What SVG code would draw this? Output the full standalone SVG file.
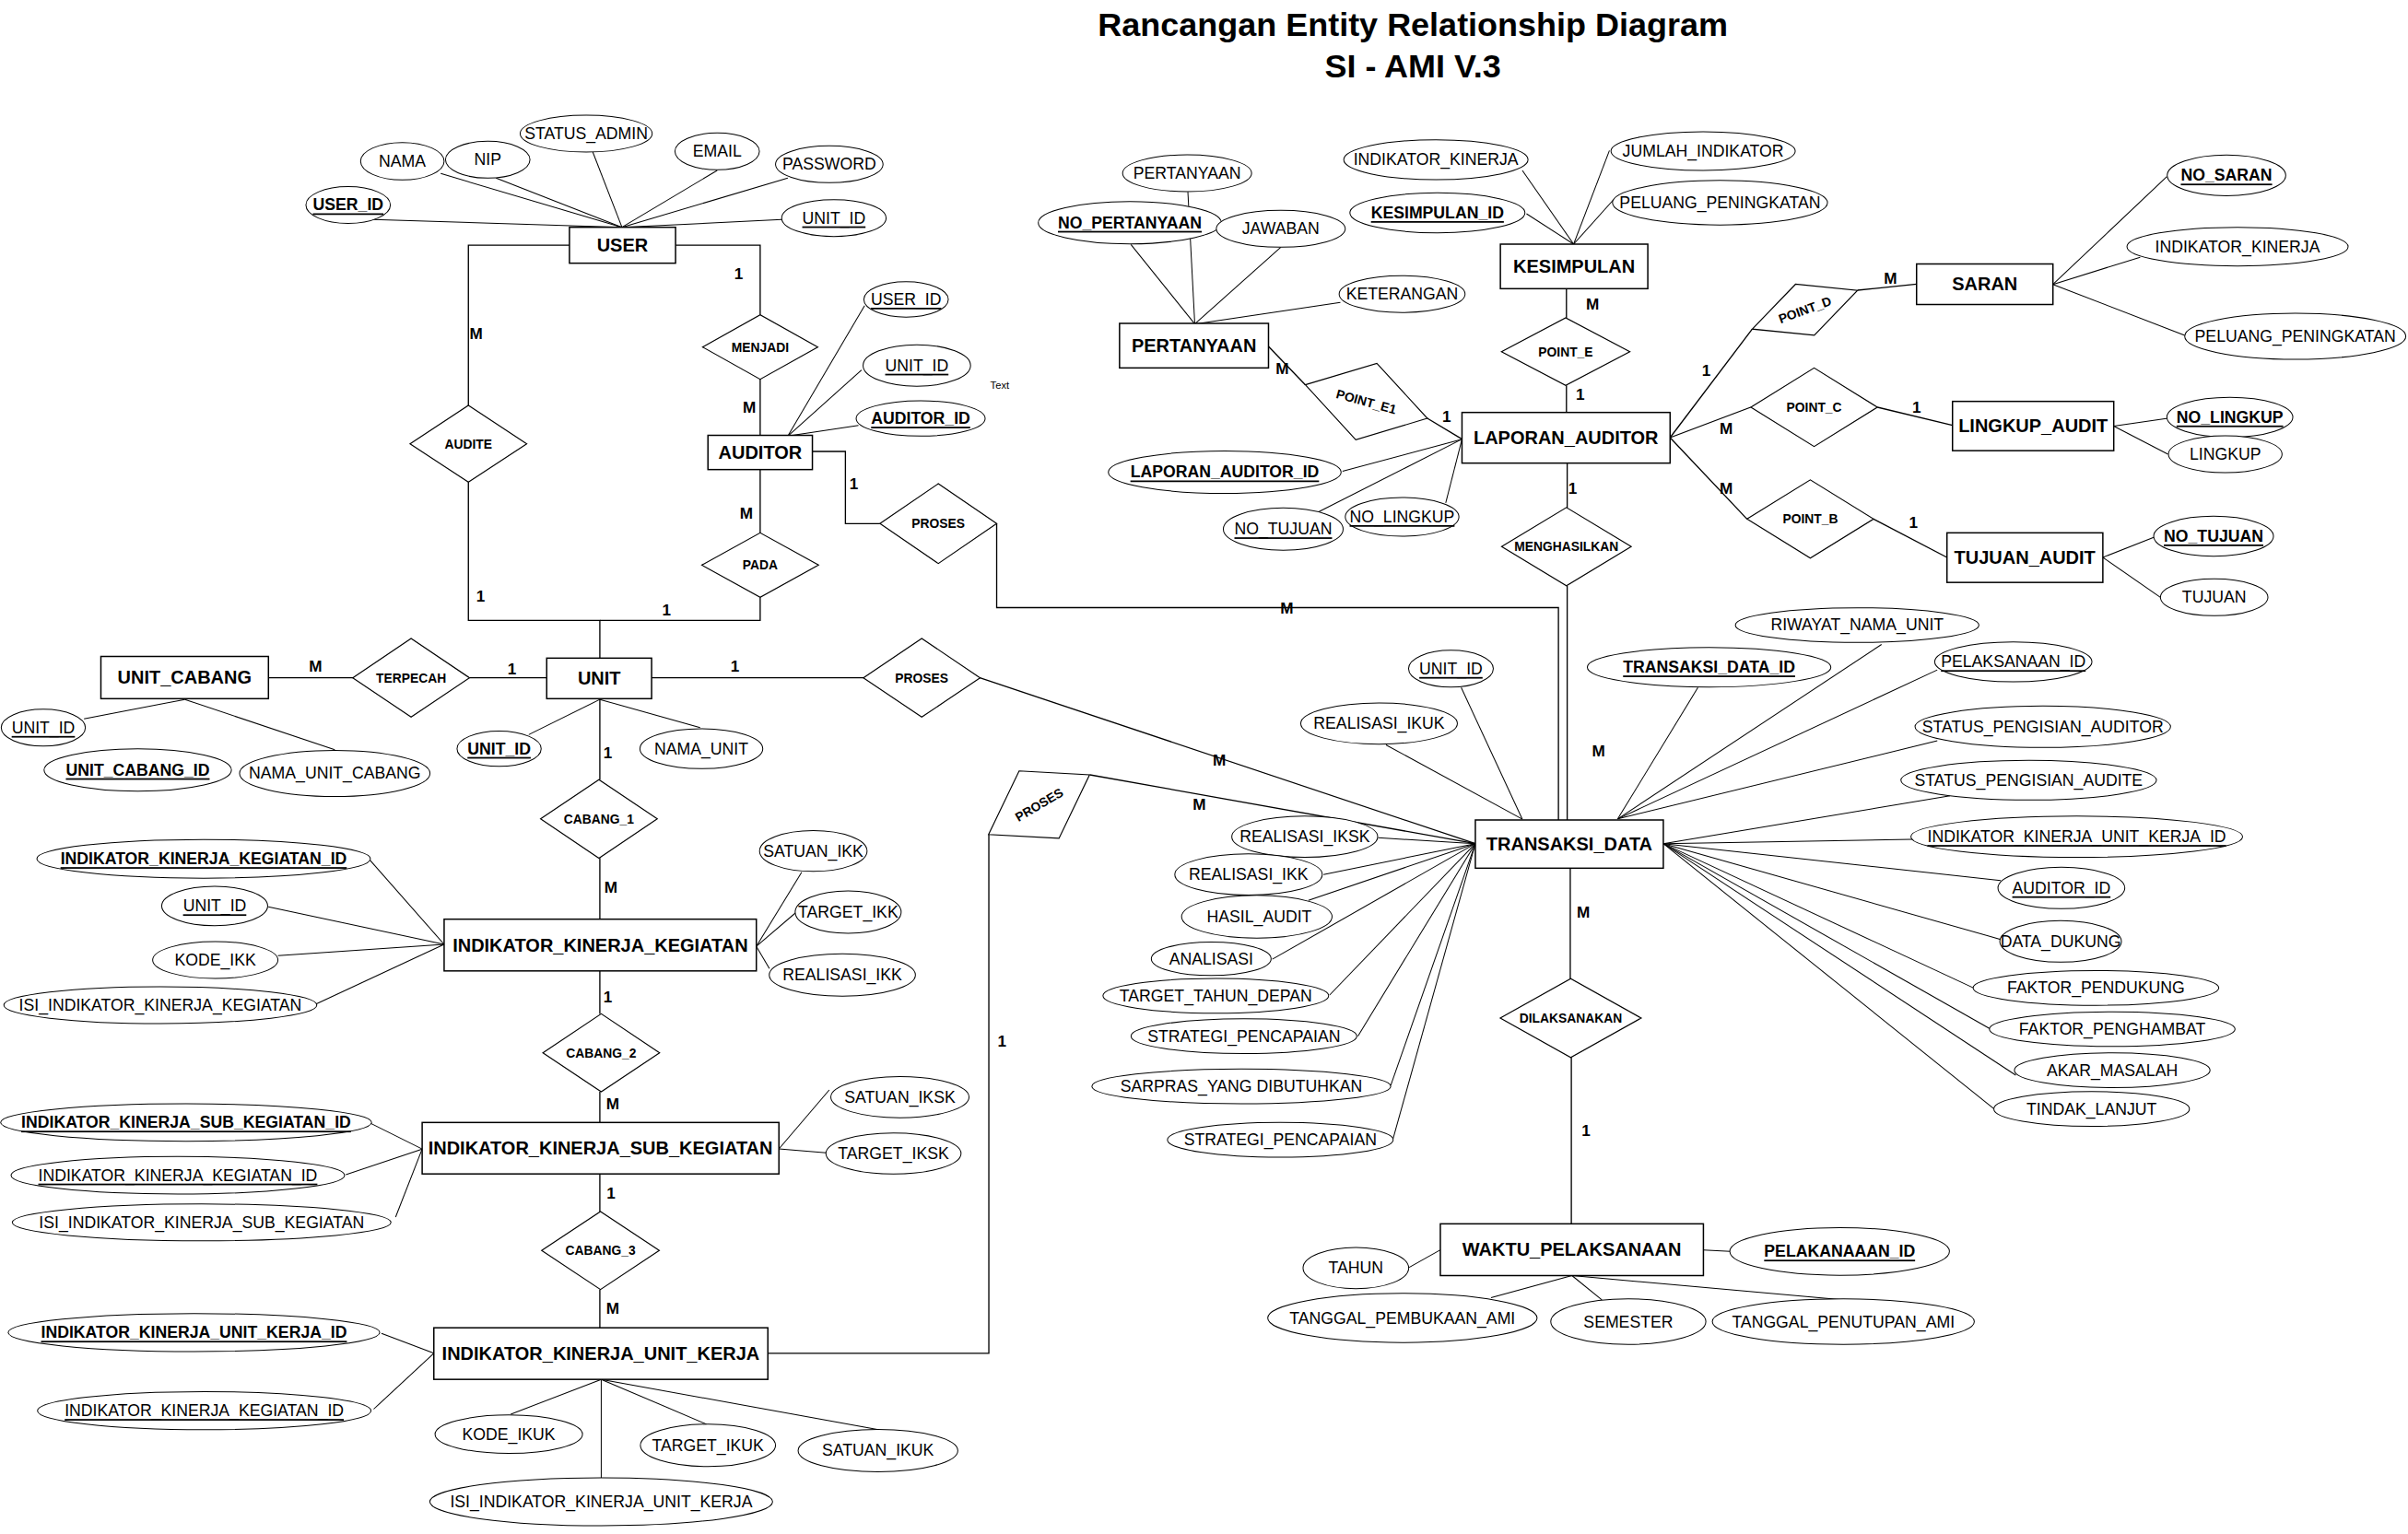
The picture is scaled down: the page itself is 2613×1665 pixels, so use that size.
<svg xmlns="http://www.w3.org/2000/svg" width="2613" height="1665" viewBox="0 0 2613 1665">
<style>
.e{fill:#fff;stroke:#000;stroke-width:0.9}
.r{fill:#fff;stroke:#000;stroke-width:0.7}
.a{fill:#fff;stroke:#000;stroke-width:0.6}
.c polyline{fill:none;stroke:#000;stroke-width:0.8}
.c line{stroke:#000;stroke-width:0.6}
text{font-family:"Liberation Sans",Arial,Helvetica,sans-serif;fill:#000;text-anchor:middle;dominant-baseline:central}
.te{font-size:12px;font-weight:bold}
.ta{font-size:10.6px}
.tk{font-size:10.6px;font-weight:bold;text-decoration:underline}
.tf{font-size:10.6px;text-decoration:underline}
.tr{font-size:8.3px;font-weight:bold}
.tc{font-size:10.3px;font-weight:bold}
.tt{font-size:21.6px;font-weight:bold}
</style>
<rect width="2613" height="1665" fill="#fff"/>
<g transform="scale(1.66645,1.66667)">
<g id="title">
<text class="tt" x="920" y="16">Rancangan Entity Relationship Diagram</text>
<text class="tt" x="920" y="43">SI - AMI V.3</text>
</g>
<g id="connectors" class="c">
<polyline points="371,159.7 305,159.7 305,264"/>
<polyline points="305,314 305,404 390.6,404 390.6,428.6"/>
<polyline points="440,159.7 495,159.7 495,205"/>
<polyline points="495,247 495,283.5"/>
<polyline points="495,306 495,347"/>
<polyline points="495,389 495,404 390.6,404"/>
<polyline points="529,294 550.5,294 550.5,341 573,341"/>
<polyline points="649,341 649,395.7 1014.8,395.7 1014.8,534"/>
<polyline points="826,225.6 850,250.6"/>
<polyline points="929.4,272.4 952,286"/>
<polyline points="1020,188 1020,207"/>
<polyline points="1020,251 1020,268.6"/>
<polyline points="1020.5,301.6 1020.5,330.6"/>
<polyline points="1020.5,381.6 1020.5,534"/>
<polyline points="1087.5,285 1141,214.3"/>
<polyline points="1209.6,189 1248,185"/>
<polyline points="1087.5,285 1140,265.2"/>
<polyline points="1222.5,265.2 1271.4,277"/>
<polyline points="1087.5,285 1137.6,338"/>
<polyline points="1220,338 1267.8,363"/>
<polyline points="174.8,441.4 229.8,441.4"/>
<polyline points="305.6,441.4 356,441.4"/>
<polyline points="424.3,441.4 562.4,441.4"/>
<polyline points="638,441.4 960.7,549.4"/>
<polyline points="390.6,455 390.6,507.7"/>
<polyline points="390.6,558.8 390.6,598.6"/>
<polyline points="390.6,632.3 390.6,660.3"/>
<polyline points="390.6,711 390.6,731"/>
<polyline points="390.6,764.5 390.6,789"/>
<polyline points="390.6,839.8 390.6,864.7"/>
<polyline points="500,881.3 643.9,881.3 643.9,543.5"/>
<polyline points="709.7,504.6 960.7,549.4"/>
<polyline points="1022.5,565.4 1022.5,637.3"/>
<polyline points="1023.2,688.7 1023.2,797"/>
<line x1="287" y1="113" x2="405" y2="148"/>
<line x1="323" y1="116" x2="405" y2="148"/>
<line x1="386" y1="99" x2="405" y2="148"/>
<line x1="467" y1="111" x2="405" y2="148"/>
<line x1="513" y1="116" x2="405" y2="148"/>
<line x1="243" y1="143" x2="405" y2="148"/>
<line x1="509" y1="143" x2="405" y2="148"/>
<line x1="563" y1="199" x2="513" y2="284"/>
<line x1="561" y1="241" x2="513" y2="284"/>
<line x1="559" y1="277" x2="513" y2="284"/>
<line x1="773.5" y1="125" x2="778" y2="211"/>
<line x1="736.4" y1="159.2" x2="778" y2="211"/>
<line x1="834" y1="161" x2="778" y2="211"/>
<line x1="872.8" y1="197" x2="778" y2="211"/>
<line x1="991.3" y1="111" x2="1024.7" y2="159"/>
<line x1="994" y1="139.2" x2="1024.7" y2="159"/>
<line x1="1048" y1="98" x2="1024.7" y2="159"/>
<line x1="1051.6" y1="129" x2="1024.7" y2="159"/>
<line x1="874.2" y1="306.9" x2="952" y2="286"/>
<line x1="858.7" y1="333.3" x2="952" y2="286"/>
<line x1="941.4" y1="327.5" x2="952" y2="286"/>
<line x1="1411" y1="115" x2="1336.8" y2="185.2"/>
<line x1="1393.6" y1="167.5" x2="1336.8" y2="185.2"/>
<line x1="1422.6" y1="218.4" x2="1336.8" y2="185.2"/>
<line x1="1411.7" y1="272.4" x2="1376.4" y2="277.5"/>
<line x1="1411.7" y1="295.8" x2="1376.4" y2="277.5"/>
<line x1="1402.8" y1="349.8" x2="1369.3" y2="363"/>
<line x1="1406.8" y1="389" x2="1369.3" y2="363"/>
<line x1="344.3" y1="478.4" x2="390.6" y2="455.5"/>
<line x1="455.9" y1="473.9" x2="390.6" y2="455.5"/>
<line x1="54.7" y1="468.1" x2="120.4" y2="455.5"/>
<line x1="218" y1="488.3" x2="120.4" y2="455.5"/>
<line x1="240.8" y1="560" x2="289.2" y2="615"/>
<line x1="174.7" y1="590.5" x2="289.2" y2="615"/>
<line x1="181" y1="622.4" x2="289.2" y2="615"/>
<line x1="204.2" y1="654.6" x2="289.2" y2="615"/>
<line x1="522" y1="568" x2="492.5" y2="616.3"/>
<line x1="518.6" y1="594" x2="492.5" y2="616.3"/>
<line x1="501" y1="630.7" x2="492.5" y2="616.3"/>
<line x1="241.2" y1="731.5" x2="274.9" y2="748.3"/>
<line x1="225.2" y1="765" x2="274.9" y2="748.3"/>
<line x1="257.6" y1="792.6" x2="274.9" y2="748.3"/>
<line x1="540" y1="709.8" x2="507.2" y2="748.2"/>
<line x1="538" y1="750.7" x2="507.2" y2="748.2"/>
<line x1="248.4" y1="868.4" x2="282.5" y2="881.3"/>
<line x1="243.3" y1="917.7" x2="282.5" y2="881.3"/>
<line x1="332.6" y1="921" x2="391.5" y2="898.3"/>
<line x1="460.1" y1="927.5" x2="391.5" y2="898.3"/>
<line x1="571.2" y1="930.9" x2="391.5" y2="898.3"/>
<line x1="391.5" y1="962.4" x2="391.5" y2="898.3"/>
<line x1="951.5" y1="447.8" x2="991.3" y2="533.5"/>
<line x1="902.5" y1="485.1" x2="991.3" y2="533.5"/>
<line x1="897.4" y1="545.6" x2="960.7" y2="549.4"/>
<line x1="861.8" y1="569.5" x2="960.7" y2="549.4"/>
<line x1="852" y1="586.3" x2="960.7" y2="549.4"/>
<line x1="828.5" y1="624.7" x2="960.7" y2="549.4"/>
<line x1="865.8" y1="648" x2="960.7" y2="549.4"/>
<line x1="884.2" y1="674.8" x2="960.7" y2="549.4"/>
<line x1="905.6" y1="706.9" x2="960.7" y2="549.4"/>
<line x1="907.1" y1="741.7" x2="960.7" y2="549.4"/>
<line x1="1105.6" y1="447.8" x2="1053.4" y2="533.3"/>
<line x1="1225.2" y1="419.7" x2="1053.4" y2="533.3"/>
<line x1="1261.5" y1="436.3" x2="1053.4" y2="533.3"/>
<line x1="1261.5" y1="482.4" x2="1053.4" y2="533.3"/>
<line x1="1269.8" y1="518.3" x2="1083.1" y2="549.4"/>
<line x1="1245" y1="546.6" x2="1083.1" y2="549.4"/>
<line x1="1302.8" y1="573.5" x2="1083.1" y2="549.4"/>
<line x1="1302.8" y1="611.8" x2="1083.1" y2="549.4"/>
<line x1="1285.2" y1="643.4" x2="1083.1" y2="549.4"/>
<line x1="1296.2" y1="670.2" x2="1083.1" y2="549.4"/>
<line x1="1312.6" y1="700.2" x2="1083.1" y2="549.4"/>
<line x1="1298.5" y1="722.2" x2="1083.1" y2="549.4"/>
<line x1="917.6" y1="825.4" x2="937.9" y2="814"/>
<line x1="1126.7" y1="815" x2="1109.2" y2="814"/>
<line x1="970.9" y1="845.1" x2="1023.6" y2="830.7"/>
<line x1="1043.1" y1="846.5" x2="1023.6" y2="830.7"/>
<line x1="1199.6" y1="846.5" x2="1023.6" y2="830.7"/>
</g>
<g id="cardinalities">
<text class="tc" x="310" y="217">M</text>
<text class="tc" x="313" y="388">1</text>
<text class="tc" x="481" y="178">1</text>
<text class="tc" x="488" y="265">M</text>
<text class="tc" x="486" y="334">M</text>
<text class="tc" x="434" y="397">1</text>
<text class="tc" x="556" y="315">1</text>
<text class="tc" x="838" y="396">M</text>
<text class="tc" x="835" y="240">M</text>
<text class="tc" x="942" y="271">1</text>
<text class="tc" x="1037" y="198">M</text>
<text class="tc" x="1029" y="257">1</text>
<text class="tc" x="1024" y="318">1</text>
<text class="tc" x="1041" y="489">M</text>
<text class="tc" x="1111" y="241">1</text>
<text class="tc" x="1231" y="181">M</text>
<text class="tc" x="1124" y="279">M</text>
<text class="tc" x="1248" y="265">1</text>
<text class="tc" x="1124" y="318">M</text>
<text class="tc" x="1246" y="340">1</text>
<text class="tc" x="205.4" y="434">M</text>
<text class="tc" x="333.4" y="435.5">1</text>
<text class="tc" x="478.6" y="434">1</text>
<text class="tc" x="794" y="495">M</text>
<text class="tc" x="395.7" y="490">1</text>
<text class="tc" x="397.8" y="578">M</text>
<text class="tc" x="395.7" y="649">1</text>
<text class="tc" x="399" y="718.5">M</text>
<text class="tc" x="397.8" y="777">1</text>
<text class="tc" x="399" y="852">M</text>
<text class="tc" x="652.5" y="678">1</text>
<text class="tc" x="781" y="524">M</text>
<text class="tc" x="1031" y="594">M</text>
<text class="tc" x="1032.7" y="736">1</text>
</g>
<g id="relationships">
<g id="rel-audite"><polygon class="r" points="267,289 305,264 343,289 305,314"/><text class="tr" x="305" y="289">AUDITE</text></g>
<g id="rel-menjadi"><polygon class="r" points="457.5,226 495,205 532.5,226 495,247"/><text class="tr" x="495" y="226">MENJADI</text></g>
<g id="rel-pada"><polygon class="r" points="457,368 495,347 533,368 495,389"/><text class="tr" x="495" y="368">PADA</text></g>
<g id="rel-proses-1"><polygon class="r" points="573,341 611,315 649,341 611,367"/><text class="tr" x="611" y="341">PROSES</text></g>
<g id="rel-terpecah"><polygon class="r" points="229.7,441.4 267.7,415.8 305.7,441.4 267.7,467"/><text class="tr" x="267.7" y="441.4">TERPECAH</text></g>
<g id="rel-proses-2"><polygon class="r" points="562.2,441.4 600.2,415.8 638.2,441.4 600.2,467"/><text class="tr" x="600.2" y="441.4">PROSES</text></g>
<g id="rel-cabang-1"><polygon class="r" points="352,533.3 390,507.7 428,533.3 390,558.9"/><text class="tr" x="390" y="533.3">CABANG_1</text></g>
<g id="rel-cabang-2"><polygon class="r" points="353.5,685.6 391.5,660.2 429.5,685.6 391.5,711"/><text class="tr" x="391.5" y="685.6">CABANG_2</text></g>
<g id="rel-cabang-3"><polygon class="r" points="352.7,814.4 391,789 429.3,814.4 391,839.8"/><text class="tr" x="391" y="814.4">CABANG_3</text></g>
<g id="rel-point-e"><polygon class="r" points="977.7,229 1019.5,207 1061.3,229 1019.5,251"/><text class="tr" x="1019.5" y="229">POINT_E</text></g>
<g id="rel-menghasilkan"><polygon class="r" points="977.8,356 1020,330.5 1062.2,356 1020,381.5"/><text class="tr" x="1020" y="356">MENGHASILKAN</text></g>
<g id="rel-point-c"><polygon class="r" points="1140.1,265.2 1181.3,239.6 1222.5,265.2 1181.3,290.8"/><text class="tr" x="1181.3" y="265.2">POINT_C</text></g>
<g id="rel-point-b"><polygon class="r" points="1137.6,338 1178.8,312.5 1220,338 1178.8,363.5"/><text class="tr" x="1178.8" y="338">POINT_B</text></g>
<g id="rel-dilaksanakan"><polygon class="r" points="976.9,663 1022.8,637.3 1068.7,663 1022.8,688.7"/><text class="tr" x="1022.8" y="663">DILAKSANAKAN</text></g>
<g id="rel-point-e1" transform="translate(889.7,261.5) rotate(15.4)"><polygon class="r" points="-41.2,0 0,-25.8 41.2,0 0,25.8"/><text class="tr" x="0" y="0">POINT_E1</text></g>
<g id="rel-point-d" transform="translate(1175.3,201.7) rotate(-20.2)"><polygon class="r" points="-36.5,0 0,-17.7 36.5,0 0,17.7"/><text class="tr" x="0" y="0">POINT_D</text></g>
<g id="rel-proses-3" transform="translate(676.6,524) rotate(-30.6)"><polygon class="r" points="-38.2,0 0,-25.5 38.2,0 0,25.5"/><text class="tr" x="0" y="0">PROSES</text></g>
</g>
<g id="entities">
<g id="ent-user"><rect class="e" x="370.8" y="148" width="69.1" height="23.4"/><text class="te" x="405.3" y="159.7">USER</text></g>
<g id="ent-auditor"><rect class="e" x="461" y="283.5" width="68" height="22.3"/><text class="te" x="495" y="294.7">AUDITOR</text></g>
<g id="ent-pertanyaan"><rect class="e" x="729" y="210.6" width="97" height="29"/><text class="te" x="777.5" y="225.1">PERTANYAAN</text></g>
<g id="ent-kesimpulan"><rect class="e" x="977" y="159" width="96" height="29"/><text class="te" x="1025" y="173.5">KESIMPULAN</text></g>
<g id="ent-laporan-auditor"><rect class="e" x="952" y="268.6" width="135.5" height="33"/><text class="te" x="1019.7" y="285.1">LAPORAN_AUDITOR</text></g>
<g id="ent-saran"><rect class="e" x="1248" y="171.9" width="88.8" height="26.4"/><text class="te" x="1292.4" y="185.1">SARAN</text></g>
<g id="ent-lingkup-audit"><rect class="e" x="1271.4" y="261.4" width="105" height="32.1"/><text class="te" x="1323.9" y="277.5">LINGKUP_AUDIT</text></g>
<g id="ent-tujuan-audit"><rect class="e" x="1267.8" y="347" width="101.5" height="32.3"/><text class="te" x="1318.5" y="363.2">TUJUAN_AUDIT</text></g>
<g id="ent-unit-cabang"><rect class="e" x="65.7" y="427.5" width="109.1" height="27.5"/><text class="te" x="120.2" y="441.2">UNIT_CABANG</text></g>
<g id="ent-unit"><rect class="e" x="356" y="428.6" width="68.3" height="26.4"/><text class="te" x="390.2" y="441.8">UNIT</text></g>
<g id="ent-ikk"><rect class="e" x="289.2" y="598.6" width="203.3" height="33.7"/><text class="te" x="390.9" y="615.5">INDIKATOR_KINERJA_KEGIATAN</text></g>
<g id="ent-iksk"><rect class="e" x="274.9" y="731" width="232.3" height="33.5"/><text class="te" x="391" y="747.8">INDIKATOR_KINERJA_SUB_KEGIATAN</text></g>
<g id="ent-ikuk"><rect class="e" x="282.5" y="864.7" width="217.5" height="33.6"/><text class="te" x="391.2" y="881.5">INDIKATOR_KINERJA_UNIT_KERJA</text></g>
<g id="ent-transaksi-data"><rect class="e" x="960.7" y="534" width="122.4" height="31.4"/><text class="te" x="1021.9" y="549.7">TRANSAKSI_DATA</text></g>
<g id="ent-waktu-pelaksanaan"><rect class="e" x="937.9" y="797" width="171.3" height="33.7"/><text class="te" x="1023.5" y="813.8">WAKTU_PELAKSANAAN</text></g>
</g>
<g id="attributes">
<g id="att-user-nama"><ellipse class="a" cx="262" cy="105" rx="27.2" ry="12.2"/><text class="ta" x="262" y="105">NAMA</text></g>
<g id="att-user-nip"><ellipse class="a" cx="317.6" cy="104" rx="27.5" ry="12"/><text class="ta" x="317.6" y="104">NIP</text></g>
<g id="att-user-status"><ellipse class="a" cx="381.7" cy="87" rx="43" ry="12"/><text class="ta" x="381.7" y="87">STATUS_ADMIN</text></g>
<g id="att-user-email"><ellipse class="a" cx="467" cy="98.6" rx="27.5" ry="12"/><text class="ta" x="467" y="98.6">EMAIL</text></g>
<g id="att-user-password"><ellipse class="a" cx="540" cy="107" rx="35" ry="12"/><text class="ta" x="540" y="107">PASSWORD</text></g>
<g id="att-user-id"><ellipse class="a" cx="226.7" cy="133.5" rx="27.5" ry="12"/><text class="tk" x="226.7" y="133.5">USER_ID</text></g>
<g id="att-user-unit"><ellipse class="a" cx="543" cy="142" rx="34" ry="12"/><text class="tf" x="543" y="142">UNIT_ID</text></g>
<g id="att-auditor-user"><ellipse class="a" cx="590" cy="195" rx="27.5" ry="11.5"/><text class="tf" x="590" y="195">USER_ID</text></g>
<g id="att-auditor-unit"><ellipse class="a" cx="597" cy="238" rx="35" ry="13.5"/><text class="tf" x="597" y="238">UNIT_ID</text></g>
<g id="att-auditor-id"><ellipse class="a" cx="599.5" cy="272.5" rx="42" ry="11.5"/><text class="tk" x="599.5" y="272.5">AUDITOR_ID</text></g>
<text id="label-text" x="651" y="251" style="font-size:6.7px">Text</text>
<g id="att-pert-pertanyaan"><ellipse class="a" cx="773" cy="112.8" rx="42" ry="12"/><text class="ta" x="773" y="112.8">PERTANYAAN</text></g>
<g id="att-pert-no"><ellipse class="a" cx="735.7" cy="145" rx="59.6" ry="13.8"/><text class="tk" x="735.7" y="145">NO_PERTANYAAN</text></g>
<g id="att-pert-jawaban"><ellipse class="a" cx="834" cy="149" rx="42" ry="12"/><text class="ta" x="834" y="149">JAWABAN</text></g>
<g id="att-pert-keterangan"><ellipse class="a" cx="913" cy="191.5" rx="41" ry="12"/><text class="ta" x="913" y="191.5">KETERANGAN</text></g>
<g id="att-kes-indikator"><ellipse class="a" cx="935" cy="104" rx="60" ry="13"/><text class="ta" x="935" y="104">INDIKATOR_KINERJA</text></g>
<g id="att-kes-id"><ellipse class="a" cx="936" cy="138.6" rx="57" ry="13"/><text class="tk" x="936" y="138.6">KESIMPULAN_ID</text></g>
<g id="att-kes-jumlah"><ellipse class="a" cx="1109" cy="98.4" rx="60" ry="12.6"/><text class="ta" x="1109" y="98.4">JUMLAH_INDIKATOR</text></g>
<g id="att-kes-peluang"><ellipse class="a" cx="1120" cy="132" rx="70" ry="14.5"/><text class="ta" x="1120" y="132">PELUANG_PENINGKATAN</text></g>
<g id="att-lap-id"><ellipse class="a" cx="797.5" cy="307.5" rx="75.8" ry="13.8"/><text class="tk" x="797.5" y="307.5">LAPORAN_AUDITOR_ID</text></g>
<g id="att-lap-tujuan"><ellipse class="a" cx="835.6" cy="344.5" rx="39" ry="13.8"/><text class="tf" x="835.6" y="344.5">NO_TUJUAN</text></g>
<g id="att-lap-lingkup"><ellipse class="a" cx="913" cy="336.6" rx="37" ry="12.6"/><text class="tf" x="913" y="336.6">NO_LINGKUP</text></g>
<g id="att-saran-no"><ellipse class="a" cx="1449.8" cy="114.2" rx="38.6" ry="13.3"/><text class="tk" x="1449.8" y="114.2">NO_SARAN</text></g>
<g id="att-saran-indikator"><ellipse class="a" cx="1457" cy="160.6" rx="72" ry="12.6"/><text class="ta" x="1457" y="160.6">INDIKATOR_KINERJA</text></g>
<g id="att-saran-peluang"><ellipse class="a" cx="1494.6" cy="219" rx="72" ry="15"/><text class="ta" x="1494.6" y="219">PELUANG_PENINGKATAN</text></g>
<g id="att-lingkup-no"><ellipse class="a" cx="1452" cy="271.7" rx="41" ry="13"/><text class="tk" x="1452" y="271.7">NO_LINGKUP</text></g>
<g id="att-lingkup-lingkup"><ellipse class="a" cx="1449" cy="295.8" rx="37" ry="12"/><text class="ta" x="1449" y="295.8">LINGKUP</text></g>
<g id="att-tujuan-no"><ellipse class="a" cx="1441.4" cy="349.2" rx="39" ry="13"/><text class="tk" x="1441.4" y="349.2">NO_TUJUAN</text></g>
<g id="att-tujuan-tujuan"><ellipse class="a" cx="1441.8" cy="389" rx="35" ry="12"/><text class="ta" x="1441.8" y="389">TUJUAN</text></g>
<g id="att-unit-id"><ellipse class="a" cx="325" cy="487.6" rx="27.4" ry="11.5"/><text class="tk" x="325" y="487.6">UNIT_ID</text></g>
<g id="att-unit-nama"><ellipse class="a" cx="456.7" cy="487.6" rx="40" ry="13"/><text class="ta" x="456.7" y="487.6">NAMA_UNIT</text></g>
<g id="att-cabang-unit"><ellipse class="a" cx="28.2" cy="473.9" rx="27.4" ry="12"/><text class="tf" x="28.2" y="473.9">UNIT_ID</text></g>
<g id="att-cabang-id"><ellipse class="a" cx="89.7" cy="501.4" rx="61" ry="13.8"/><text class="tk" x="89.7" y="501.4">UNIT_CABANG_ID</text></g>
<g id="att-cabang-nama"><ellipse class="a" cx="218" cy="503.7" rx="62" ry="15"/><text class="ta" x="218" y="503.7">NAMA_UNIT_CABANG</text></g>
<g id="att-ikk-id"><ellipse class="a" cx="132.6" cy="559.3" rx="108.6" ry="12.6"/><text class="tk" x="132.6" y="559.3">INDIKATOR_KINERJA_KEGIATAN_ID</text></g>
<g id="att-ikk-unit"><ellipse class="a" cx="139.8" cy="590" rx="34.5" ry="12.8"/><text class="tf" x="139.8" y="590">UNIT_ID</text></g>
<g id="att-ikk-kode"><ellipse class="a" cx="140.2" cy="625.2" rx="40.8" ry="12"/><text class="ta" x="140.2" y="625.2">KODE_IKK</text></g>
<g id="att-ikk-isi"><ellipse class="a" cx="104.4" cy="654.6" rx="101.9" ry="12"/><text class="ta" x="104.4" y="654.6">ISI_INDIKATOR_KINERJA_KEGIATAN</text></g>
<g id="att-ikk-satuan"><ellipse class="a" cx="529.6" cy="554.2" rx="35" ry="13.3"/><text class="ta" x="529.6" y="554.2">SATUAN_IKK</text></g>
<g id="att-ikk-target"><ellipse class="a" cx="552.3" cy="594" rx="34.5" ry="13.8"/><text class="ta" x="552.3" y="594">TARGET_IKK</text></g>
<g id="att-ikk-realisasi"><ellipse class="a" cx="548.5" cy="635" rx="47.6" ry="13.8"/><text class="ta" x="548.5" y="635">REALISASI_IKK</text></g>
<g id="att-iksk-id"><ellipse class="a" cx="121.2" cy="731" rx="120.8" ry="12.2"/><text class="tk" x="121.2" y="731">INDIKATOR_KINERJA_SUB_KEGIATAN_ID</text></g>
<g id="att-iksk-ikk"><ellipse class="a" cx="115.8" cy="765.4" rx="108.6" ry="12.2"/><text class="tf" x="115.8" y="765.4">INDIKATOR_KINERJA_KEGIATAN_ID</text></g>
<g id="att-iksk-isi"><ellipse class="a" cx="131.3" cy="796.1" rx="123.3" ry="12"/><text class="ta" x="131.3" y="796.1">ISI_INDIKATOR_KINERJA_SUB_KEGIATAN</text></g>
<g id="att-iksk-satuan"><ellipse class="a" cx="586" cy="714.5" rx="45" ry="13.4"/><text class="ta" x="586" y="714.5">SATUAN_IKSK</text></g>
<g id="att-iksk-target"><ellipse class="a" cx="581.8" cy="751.2" rx="44" ry="13.4"/><text class="ta" x="581.8" y="751.2">TARGET_IKSK</text></g>
<g id="att-ikuk-id"><ellipse class="a" cx="126.3" cy="867.8" rx="121" ry="12.4"/><text class="tk" x="126.3" y="867.8">INDIKATOR_KINERJA_UNIT_KERJA_ID</text></g>
<g id="att-ikuk-ikk"><ellipse class="a" cx="133" cy="918.7" rx="108.6" ry="12.4"/><text class="tf" x="133" y="918.7">INDIKATOR_KINERJA_KEGIATAN_ID</text></g>
<g id="att-ikuk-kode"><ellipse class="a" cx="331.3" cy="934" rx="48" ry="12.5"/><text class="ta" x="331.3" y="934">KODE_IKUK</text></g>
<g id="att-ikuk-target"><ellipse class="a" cx="461" cy="941.3" rx="44" ry="13.8"/><text class="ta" x="461" y="941.3">TARGET_IKUK</text></g>
<g id="att-ikuk-satuan"><ellipse class="a" cx="571.7" cy="944.7" rx="52" ry="13.8"/><text class="ta" x="571.7" y="944.7">SATUAN_IKUK</text></g>
<g id="att-ikuk-isi"><ellipse class="a" cx="391.5" cy="978" rx="111.6" ry="15.6"/><text class="ta" x="391.5" y="978">ISI_INDIKATOR_KINERJA_UNIT_KERJA</text></g>
<g id="att-td-unit"><ellipse class="a" cx="944.8" cy="435.5" rx="27.6" ry="12"/><text class="tf" x="944.8" y="435.5">UNIT_ID</text></g>
<g id="att-td-realisasi-ikuk"><ellipse class="a" cx="898" cy="471.2" rx="51" ry="13.4"/><text class="ta" x="898" y="471.2">REALISASI_IKUK</text></g>
<g id="att-td-realisasi-iksk"><ellipse class="a" cx="849.6" cy="544.9" rx="47.5" ry="13.4"/><text class="ta" x="849.6" y="544.9">REALISASI_IKSK</text></g>
<g id="att-td-realisasi-ikk"><ellipse class="a" cx="813" cy="569.5" rx="48" ry="13.4"/><text class="ta" x="813" y="569.5">REALISASI_IKK</text></g>
<g id="att-td-hasil"><ellipse class="a" cx="818.4" cy="597" rx="49" ry="13.9"/><text class="ta" x="820" y="597">HASIL_AUDIT</text></g>
<g id="att-td-analisasi"><ellipse class="a" cx="788.7" cy="624.4" rx="39" ry="10.9"/><text class="ta" x="788.7" y="624.4">ANALISASI</text></g>
<g id="att-td-target"><ellipse class="a" cx="791.7" cy="648.5" rx="73.5" ry="11.3"/><text class="ta" x="791.7" y="648.5">TARGET_TAHUN_DEPAN</text></g>
<g id="att-td-strategi-1"><ellipse class="a" cx="810" cy="674.8" rx="73.5" ry="11.3"/><text class="ta" x="810" y="674.8">STRATEGI_PENCAPAIAN</text></g>
<g id="att-td-sarpras"><ellipse class="a" cx="808.3" cy="707.5" rx="97.3" ry="11.3"/><text class="ta" x="808.3" y="707.5">SARPRAS_YANG DIBUTUHKAN</text></g>
<g id="att-td-strategi-2"><ellipse class="a" cx="833.7" cy="742.3" rx="73.5" ry="11.3"/><text class="ta" x="833.7" y="742.3">STRATEGI_PENCAPAIAN</text></g>
<g id="att-td-riwayat"><ellipse class="a" cx="1209.3" cy="407.1" rx="79.3" ry="11.3"/><text class="ta" x="1209.3" y="407.1">RIWAYAT_NAMA_UNIT</text></g>
<g id="att-td-id"><ellipse class="a" cx="1112.9" cy="434.5" rx="79.3" ry="12.9"/><text class="tk" x="1112.9" y="434.5">TRANSAKSI_DATA_ID</text></g>
<g id="att-td-pelaksanaan"><ellipse class="a" cx="1311" cy="431" rx="51.2" ry="13"/><text class="tf" x="1311" y="431">PELAKSANAAN_ID</text></g>
<g id="att-td-status-auditor"><ellipse class="a" cx="1330.2" cy="473.3" rx="83.2" ry="13.5"/><text class="ta" x="1330.2" y="473.3">STATUS_PENGISIAN_AUDITOR</text></g>
<g id="att-td-status-audite"><ellipse class="a" cx="1321" cy="508.1" rx="83.2" ry="12.9"/><text class="ta" x="1321" y="508.1">STATUS_PENGISIAN_AUDITE</text></g>
<g id="att-td-ikuk"><ellipse class="a" cx="1352.3" cy="544.9" rx="108" ry="13.4"/><text class="tf" x="1352.3" y="544.9">INDIKATOR_KINERJA_UNIT_KERJA_ID</text></g>
<g id="att-td-auditor"><ellipse class="a" cx="1342.3" cy="578.3" rx="41.3" ry="13.5"/><text class="tf" x="1342.3" y="578.3">AUDITOR_ID</text></g>
<g id="att-td-data"><ellipse class="a" cx="1341.8" cy="613.1" rx="39.6" ry="13.5"/><text class="ta" x="1341.8" y="613.1">DATA_DUKUNG</text></g>
<g id="att-td-pendukung"><ellipse class="a" cx="1364.8" cy="643.4" rx="80" ry="11.3"/><text class="ta" x="1364.8" y="643.4">FAKTOR_PENDUKUNG</text></g>
<g id="att-td-penghambat"><ellipse class="a" cx="1375.4" cy="670.2" rx="80" ry="11.3"/><text class="ta" x="1375.4" y="670.2">FAKTOR_PENGHAMBAT</text></g>
<g id="att-td-akar"><ellipse class="a" cx="1375.4" cy="697" rx="63.7" ry="11.3"/><text class="ta" x="1375.4" y="697">AKAR_MASALAH</text></g>
<g id="att-td-tindak"><ellipse class="a" cx="1362" cy="722.2" rx="63.7" ry="11.3"/><text class="ta" x="1362" y="722.2">TINDAK_LANJUT</text></g>
<g id="att-wp-tahun"><ellipse class="a" cx="882.9" cy="825.8" rx="34.4" ry="13.4"/><text class="ta" x="882.9" y="825.8">TAHUN</text></g>
<g id="att-wp-id"><ellipse class="a" cx="1197.9" cy="815" rx="71.5" ry="15.5"/><text class="tk" x="1197.9" y="815">PELAKANAAAN_ID</text></g>
<g id="att-wp-pembukaan"><ellipse class="a" cx="913.2" cy="858.3" rx="87.7" ry="16"/><text class="ta" x="913.2" y="858.3">TANGGAL_PEMBUKAAN_AMI</text></g>
<g id="att-wp-semester"><ellipse class="a" cx="1060.3" cy="860.7" rx="50.5" ry="14.8"/><text class="ta" x="1060.3" y="860.7">SEMESTER</text></g>
<g id="att-wp-penutupan"><ellipse class="a" cx="1200.3" cy="860.7" rx="85.3" ry="14.8"/><text class="ta" x="1200.3" y="860.7">TANGGAL_PENUTUPAN_AMI</text></g>
</g>
</g>
</svg>
